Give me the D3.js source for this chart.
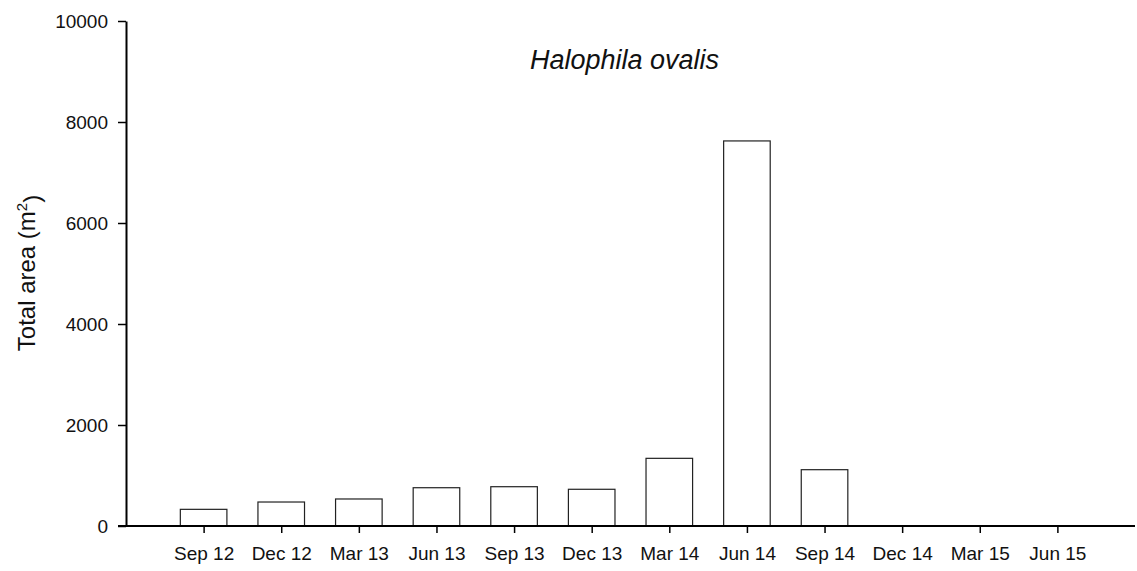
<!DOCTYPE html>
<html>
<head>
<meta charset="utf-8">
<script src="https://cdn.jsdelivr.net/npm/d3@7"></script>
<style>
  body { margin: 0; background: #fff; }
  text { font-family: "Liberation Sans", Arial, sans-serif; fill: #111; }
</style>
</head>
<body>
<div id="chart"></div>
<script>
// Quarterly sampling dates
const categories = ["Sep 12", "Dec 12", "Mar 13", "Jun 13", "Sep 13", "Dec 13",
  "Mar 14", "Jun 14", "Sep 14", "Dec 14", "Mar 15", "Jun 15"];
// Total area (m2)
const areaValues = [330, 475, 535, 758, 778, 727, 1340, 7625, 1115, 0, 0, 0];
const yTicks = [0, 2000, 4000, 6000, 8000, 10000];

const width = 1137;
const height = 571;
const plot = { left: 126, right: 1135, top: 21, bottom: 526 };

const svg = d3.select("#chart")
  .append("svg")
  .attr("width", width)
  .attr("height", height);

// x: one slot per quarter, with an empty slot at each end
const x = d3.scalePoint()
  .domain(categories)
  .range([plot.left, plot.right])
  .padding(1);

const y = d3.scaleLinear()
  .domain([0, 10000])
  .range([plot.bottom, plot.top]);

const barWidth = x.step() * 0.6;

// bars
svg.append("g")
  .selectAll("rect")
  .data(categories.map((c, i) => ({ cat: c, value: areaValues[i] })))
  .join("rect")
  .filter((d) => d.value > 0)
  .attr("x", (d) => x(d.cat) - barWidth / 2)
  .attr("y", (d) => y(d.value))
  .attr("width", barWidth)
  .attr("height", (d) => y(0) - y(d.value))
  .attr("fill", "#fff")
  .attr("stroke", "#222")
  .attr("stroke-width", 1.2);

// y axis
const yAxis = svg.append("g")
  .attr("transform", `translate(${plot.left},0)`)
  .call(d3.axisLeft(y).tickValues(yTicks).tickFormat(d3.format("d"))
    .tickSize(8).tickPadding(10).tickSizeOuter(0));
yAxis.select(".domain").attr("stroke", "#000").attr("stroke-width", 2);
yAxis.selectAll(".tick line").attr("stroke", "#000").attr("stroke-width", 1.5);
yAxis.selectAll(".tick text").style("font-size", "19px");

// x axis
const xAxis = svg.append("g")
  .attr("transform", `translate(0,${plot.bottom})`)
  .call(d3.axisBottom(x).tickSize(7).tickPadding(13.5).tickSizeOuter(0));
xAxis.select(".domain")
  .attr("d", `M${plot.left - 8},0H${plot.right}`)
  .attr("stroke", "#000")
  .attr("stroke-width", 2);
xAxis.selectAll(".tick line").attr("stroke", "#000").attr("stroke-width", 1.5);
xAxis.selectAll(".tick text").style("font-size", "19px");

// y axis title
const yLabel = svg.append("text")
  .attr("transform", `translate(35,273) rotate(-90)`)
  .attr("text-anchor", "middle")
  .style("font-size", "24px");
yLabel.append("tspan").text("Total area (m");
yLabel.append("tspan").attr("dy", "-0.55em").style("font-size", "15px").text("2");
yLabel.append("tspan").attr("dy", "0.55em").text(")");

// species title
svg.append("text")
  .attr("x", 624.5)
  .attr("y", 69)
  .attr("text-anchor", "middle")
  .style("font-size", "27px")
  .style("font-style", "italic")
  .text("Halophila ovalis");
</script>
</body>
</html>
